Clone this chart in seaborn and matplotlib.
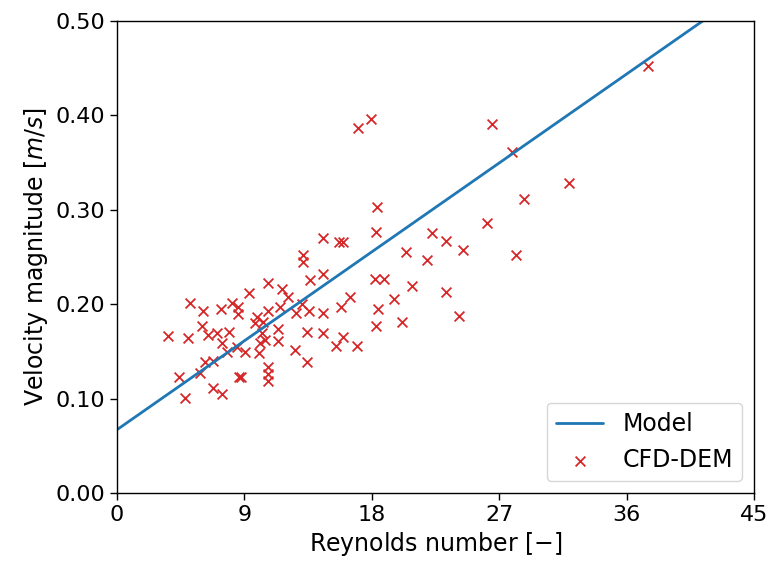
import numpy as np
import pandas as pd
import matplotlib
matplotlib.use("Agg")
import matplotlib.pyplot as plt
import seaborn as sns

# CFD-DEM samples
reynolds = [3.60, 4.38, 4.80, 5.16, 5.02, 5.86, 6.00, 6.08, 6.22, 6.43,
            6.78, 6.78, 7.06, 7.35, 7.42, 7.42, 7.77, 7.91, 8.12, 8.48,
            8.55, 8.55, 8.62, 8.76, 9.04, 9.32, 9.75, 9.89, 10.03, 10.10,
            10.24, 10.31, 10.45, 10.67, 10.67, 10.67, 10.67, 10.67, 11.37, 11.37,
            11.51, 11.66, 12.08, 12.57, 12.64, 13.07, 13.14, 13.14, 13.42, 13.42,
            13.56, 13.63, 14.55, 14.55, 14.55, 14.55, 15.47, 15.68, 15.96, 15.82,
            15.96, 16.46, 16.95, 17.02, 17.94, 18.37, 18.30, 18.23, 18.86, 18.44,
            18.30, 19.57, 20.13, 20.42, 20.84, 21.90, 22.25, 23.24, 23.24, 24.16,
            24.44, 26.14, 26.49, 27.90, 28.19, 28.75, 31.93, 37.51]
velocity = [0.166, 0.123, 0.101, 0.201, 0.164, 0.127, 0.177, 0.193, 0.139, 0.167,
            0.140, 0.111, 0.169, 0.195, 0.159, 0.105, 0.149, 0.171, 0.201, 0.155,
            0.197, 0.190, 0.123, 0.123, 0.149, 0.212, 0.180, 0.186, 0.148, 0.159,
            0.169, 0.181, 0.162, 0.193, 0.222, 0.133, 0.126, 0.119, 0.161, 0.174,
            0.197, 0.216, 0.208, 0.151, 0.191, 0.200, 0.252, 0.245, 0.171, 0.139,
            0.193, 0.226, 0.270, 0.191, 0.232, 0.169, 0.156, 0.266, 0.266, 0.197,
            0.165, 0.208, 0.156, 0.387, 0.396, 0.303, 0.276, 0.227, 0.227, 0.195,
            0.177, 0.206, 0.181, 0.255, 0.219, 0.247, 0.275, 0.267, 0.213, 0.188,
            0.257, 0.286, 0.391, 0.361, 0.252, 0.311, 0.328, 0.452]

# model line end points
model_re = [0, 45]
model_vel = [0.067, 0.538]

x_ticks = [0, 9, 18, 27, 36, 45]
y_ticks = [0.0, 0.1, 0.2, 0.3, 0.4, 0.5]

sns.set_style("ticks", {"axes.edgecolor": "black", "text.color": "black",
                        "axes.labelcolor": "black", "xtick.color": "black",
                        "ytick.color": "black"})
plt.rcParams["font.family"] = ["DejaVu Sans"]
plt.rcParams["mathtext.fontset"] = "dejavusans"

fig = plt.figure(figsize=(7.69, 5.65), dpi=100)
ax = fig.add_axes([0.152, 0.1274, 0.8285, 0.8354])

sns.lineplot(x=model_re, y=model_vel, ax=ax, color="#1f77b4", linewidth=2,
             label="Model")
sns.scatterplot(x=reynolds, y=velocity, ax=ax, marker="x", color="#d62728",
                s=50, linewidth=1.3, label="CFD-DEM")

ax.set_xlim(0, 45)
ax.set_ylim(0, 0.5)
ax.set_xticks(x_ticks)
ax.set_yticks(y_ticks)
ax.set_yticklabels([f"{v:.2f}" for v in y_ticks])
ax.tick_params(labelsize=16, length=5, width=1)
for s in ax.spines.values():
    s.set_linewidth(1)
ax.set_xlabel(r"Reynolds number $[-]$", fontsize=17)
ax.set_ylabel(r"Velocity magnitude $[m/s]$", fontsize=17)
ax.legend(loc="lower right", fontsize=17)

fig.savefig("out.png", dpi=100)
